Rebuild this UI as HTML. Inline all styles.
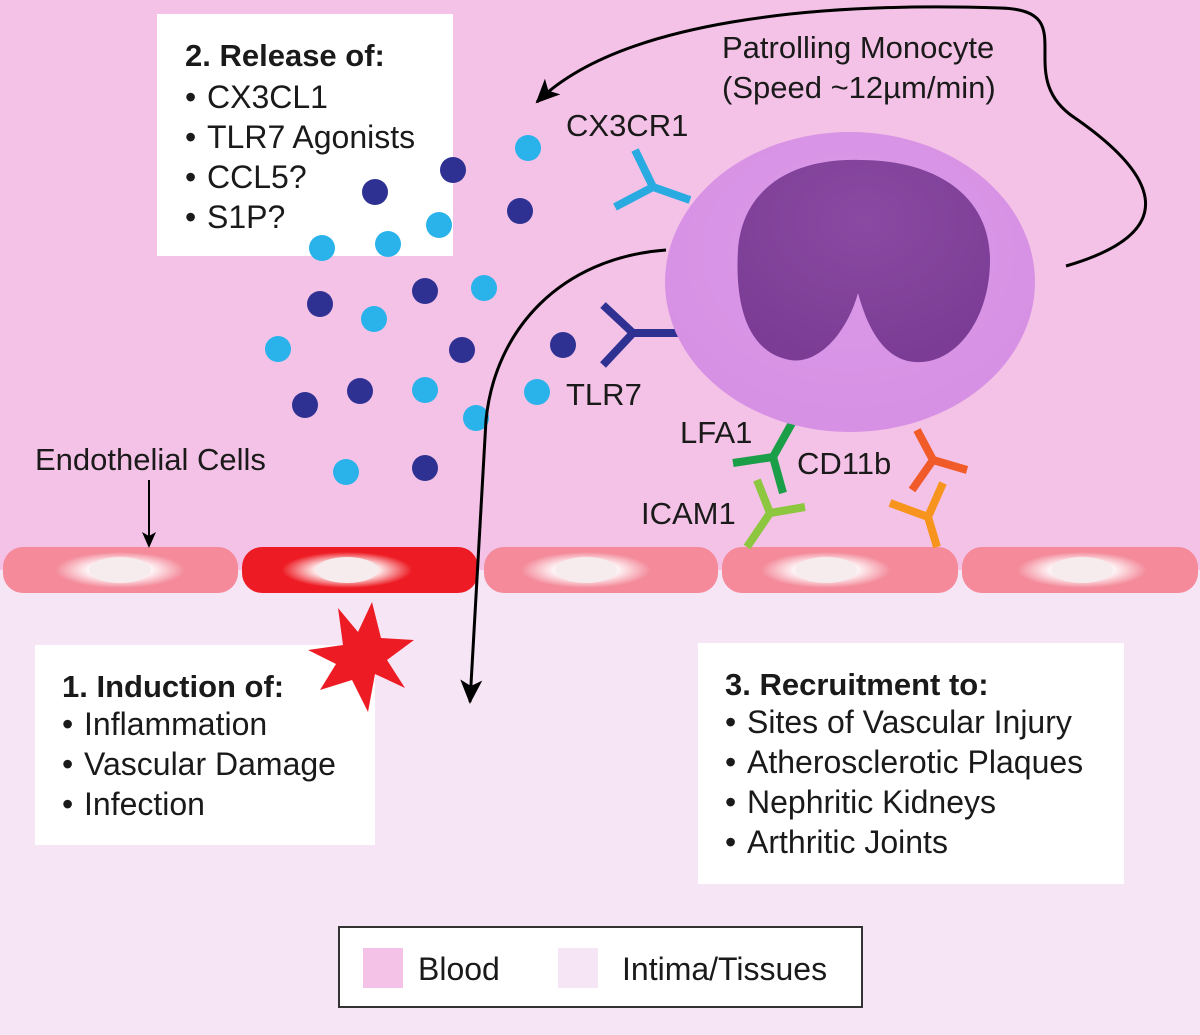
<!DOCTYPE html>
<html><head><meta charset="utf-8"><style>html,body{margin:0;padding:0;width:1200px;height:1035px;overflow:hidden}svg{display:block}text{font-family:"Liberation Sans",sans-serif;fill:#1a1a1a}</style></head>
<body>
<svg width="1200" height="1035" viewBox="0 0 1200 1035" xmlns="http://www.w3.org/2000/svg">
<defs>
<radialGradient id="nucG" cx="0.5" cy="0.5" r="0.5"><stop offset="0.5" stop-color="#fff" stop-opacity="0.9"/><stop offset="1" stop-color="#fff" stop-opacity="0"/></radialGradient>
<radialGradient id="cellG" cx="0.5" cy="0.4" r="0.6"><stop offset="0" stop-color="#dc9ae8"/><stop offset="1" stop-color="#d690e4"/></radialGradient>
<radialGradient id="nucP" cx="0.5" cy="0.3" r="0.7"><stop offset="0" stop-color="#8a4aa3"/><stop offset="1" stop-color="#7a3c94"/></radialGradient>
<marker id="ah" markerWidth="26" markerHeight="26" refX="22" refY="13" orient="auto" markerUnits="userSpaceOnUse" viewBox="0 0 26 26"><path d="M0,2 L24,13 L0,24 L6,13 Z" fill="#000"/></marker>
<marker id="ah2" markerWidth="16" markerHeight="16" refX="14" refY="8" orient="auto" markerUnits="userSpaceOnUse" viewBox="0 0 16 16"><path d="M0,1 L16,8 L0,15 L4,8 Z" fill="#000"/></marker>
</defs>
<rect x="0" y="0" width="1200" height="570" fill="#f4c2e6"/>
<rect x="0" y="570" width="1200" height="465" fill="#f6e5f4"/>

<!-- box 2 (behind dots) -->
<rect x="157" y="14" width="296" height="242" fill="#fff"/>
<g font-size="32">
<text x="185" y="66" font-weight="bold" font-size="31">2. Release of:</text>
<text x="185" y="108">•</text><text x="207" y="108">CX3CL1</text>
<text x="185" y="148">•</text><text x="207" y="148">TLR7 Agonists</text>
<text x="185" y="188">•</text><text x="207" y="188">CCL5?</text>
<text x="185" y="228">•</text><text x="207" y="228">S1P?</text>
</g>

<!-- endothelial cells -->
<g>
<rect x="3" y="547" width="235" height="46" rx="20" fill="#f48a9a"/>
<rect x="242" y="547" width="236" height="46" rx="20" fill="#ed1c24"/>
<rect x="484" y="547" width="234" height="46" rx="20" fill="#f48a9a"/>
<rect x="722" y="547" width="236" height="46" rx="20" fill="#f48a9a"/>
<rect x="962" y="547" width="236" height="46" rx="20" fill="#f48a9a"/>
<ellipse cx="120" cy="570" rx="65" ry="18" fill="url(#nucG)"/>
<ellipse cx="347" cy="570" rx="65" ry="18" fill="url(#nucG)"/>
<ellipse cx="586" cy="570" rx="65" ry="18" fill="url(#nucG)"/>
<ellipse cx="826" cy="570" rx="65" ry="18" fill="url(#nucG)"/>
<ellipse cx="1082" cy="570" rx="65" ry="18" fill="url(#nucG)"/>
<ellipse cx="120" cy="570" rx="31" ry="13" fill="#f6ecee"/>
<ellipse cx="347" cy="570" rx="31" ry="13" fill="#f6ecee"/>
<ellipse cx="586" cy="570" rx="31" ry="13" fill="#f6ecee"/>
<ellipse cx="826" cy="570" rx="31" ry="13" fill="#f6ecee"/>
<ellipse cx="1082" cy="570" rx="31" ry="13" fill="#f6ecee"/>
</g>

<!-- receptors -->
<g fill="none" stroke-width="8" stroke-linecap="butt">
<path d="M690,200 L653,187 M635,150 L653,187 L615,207" stroke="#29abe2"/>
<path d="M680,333 L633,333 M603,305 L633,333 L603,365" stroke="#2e3192"/>
<path d="M792,423 L773,457 L783,493 M733,463 L773,457" stroke="#1a9e48"/>
<path d="M747,547 L770,513 L757,480 M770,513 L805,507" stroke="#8dc63f"/>
<path d="M917,430 L933,460 L912,490 M933,460 L967,470" stroke="#f15a29"/>
<path d="M937,547 L928,517 L890,503 M928,517 L943,483" stroke="#f7941d"/>
</g>

<!-- monocyte -->
<ellipse cx="850" cy="282" rx="185" ry="150" fill="url(#cellG)"/>
<path d="M858,293 C848,330 820,365 790,360 C745,352 735,300 738,250 C742,190 790,158 860,160 C935,160 990,195 990,260 C990,320 955,365 915,362 C885,360 868,330 858,293 Z" fill="url(#nucP)"/>

<!-- dots -->
<g fill="#2e3192">
<circle cx="375" cy="192" r="13"/><circle cx="453" cy="170" r="13"/><circle cx="520" cy="211" r="13"/>
<circle cx="320" cy="304" r="13"/><circle cx="425" cy="291" r="13"/><circle cx="462" cy="350" r="13"/>
<circle cx="305" cy="405" r="13"/><circle cx="360" cy="391" r="13"/><circle cx="425" cy="468" r="13"/><circle cx="563" cy="345" r="13"/>
</g>
<g fill="#29b3ea">
<circle cx="528" cy="148" r="13"/><circle cx="439" cy="225" r="13"/><circle cx="388" cy="244" r="13"/>
<circle cx="322" cy="248" r="13"/><circle cx="484" cy="288" r="13"/><circle cx="374" cy="319" r="13"/>
<circle cx="278" cy="349" r="13"/><circle cx="425" cy="390" r="13"/><circle cx="476" cy="418" r="13"/>
<circle cx="537" cy="392" r="13"/><circle cx="346" cy="472" r="13"/>
</g>

<!-- arrows -->
<g fill="none" stroke="#000" stroke-width="3">
<path d="M1066,266 C1190,230 1150,170 1075,118 C1010,75 1085,10 1000,8 C820,2 620,20 537,102" marker-end="url(#ah)"/>
<path d="M666,250 C560,258 495,330 486,420 L470,702" marker-end="url(#ah)"/>
<path d="M149,480 L149,546" marker-end="url(#ah2)" stroke-width="2"/>
</g>

<!-- labels -->
<g font-size="31">
<text x="722" y="58">Patrolling Monocyte</text>
<text x="722" y="98">(Speed ~12µm/min)</text>
<text x="566" y="136">CX3CR1</text>
<text x="566" y="405">TLR7</text>
<text x="680" y="443">LFA1</text>
<text x="797" y="474">CD11b</text>
<text x="641" y="524">ICAM1</text>
<text x="35" y="470">Endothelial Cells</text>
</g>

<!-- box 1 -->
<rect x="35" y="645" width="340" height="200" fill="#fff"/>
<polygon fill="#ed1c24" points="372,602 381,638 414,640 387,660 405,688 375,674 368,712 352,680 320,690 336,664 308,650 343,645 338,608 358,632"/>
<g font-size="32">
<text x="62" y="697" font-weight="bold" font-size="31">1. Induction of:</text>
<text x="62" y="735">•</text><text x="84" y="735">Inflammation</text>
<text x="62" y="775">•</text><text x="84" y="775">Vascular Damage</text>
<text x="62" y="815">•</text><text x="84" y="815">Infection</text>
</g>

<!-- box 3 -->
<rect x="698" y="643" width="426" height="241" fill="#fff"/>
<g font-size="32">
<text x="725" y="695" font-weight="bold" font-size="31">3. Recruitment to:</text>
<text x="725" y="733">•</text><text x="747" y="733">Sites of Vascular Injury</text>
<text x="725" y="773">•</text><text x="747" y="773">Atherosclerotic Plaques</text>
<text x="725" y="813">•</text><text x="747" y="813">Nephritic Kidneys</text>
<text x="725" y="853">•</text><text x="747" y="853">Arthritic Joints</text>
</g>

<!-- legend -->
<rect x="339" y="927" width="523" height="80" fill="#fff" stroke="#333" stroke-width="2"/>
<rect x="363" y="948" width="40" height="40" fill="#f4c2e6"/>
<rect x="558" y="948" width="40" height="40" fill="#f6e5f4"/>
<text x="418" y="980" font-size="32">Blood</text>
<text x="622" y="980" font-size="32">Intima/Tissues</text>
</svg>
</body></html>
